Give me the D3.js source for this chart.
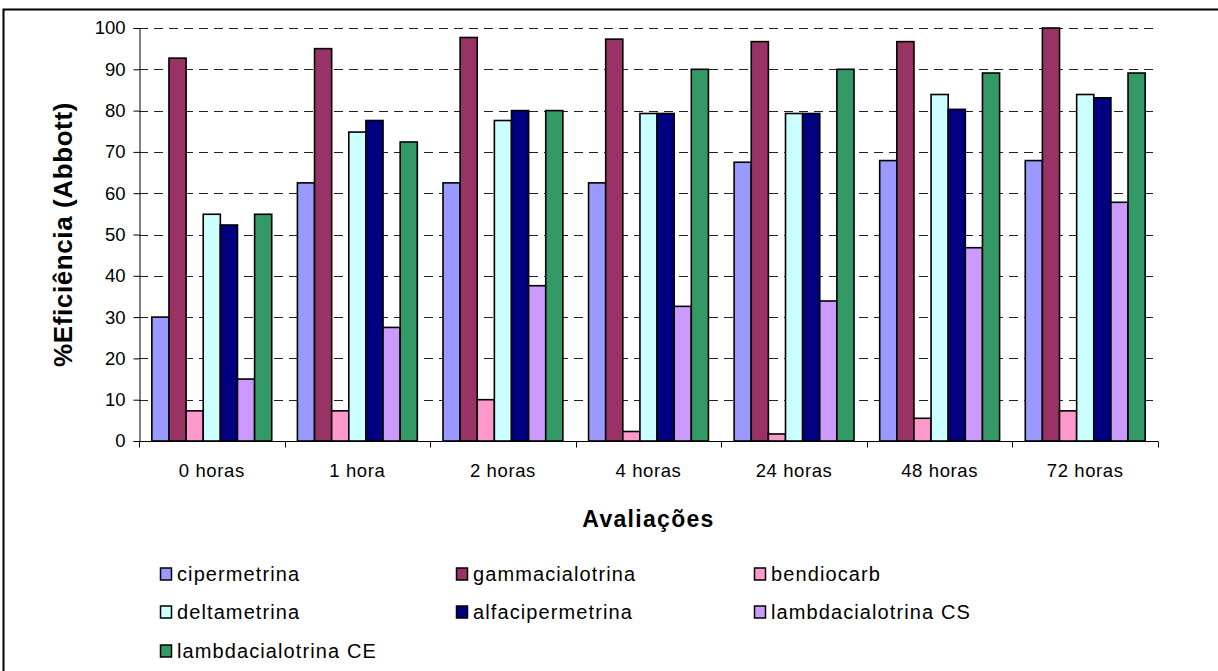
<!DOCTYPE html>
<html>
<head>
<meta charset="utf-8">
<script src="https://cdn.jsdelivr.net/npm/d3@7/dist/d3.min.js"></script>
<style>
  html, body { margin: 0; padding: 0; background: #fff; }
  svg { display: block; }
  text { font-family: "Liberation Sans", Arial, sans-serif; fill: #000; }
</style>
</head>
<body>
<svg id="chart" width="1218" height="671"></svg>
<script>
// Evaluation times (categories)
const categories = ["0 horas", "1 hora", "2 horas", "4 horas", "24 horas", "48 horas", "72 horas"];

// Insecticides (series) and their fill colours
const seriesNames = ["cipermetrina", "gammacialotrina", "bendiocarb", "deltametrina",
                     "alfacipermetrina", "lambdacialotrina CS", "lambdacialotrina CE"];
const seriesColors = ["#9999FF", "#993366", "#FF99CC", "#CCFFFF", "#000080", "#CC99FF", "#339966"];

// % efficiency (Abbott) per series, one value per evaluation time
const cipermetrina       = [30.0, 62.5, 62.5, 62.5, 67.5, 67.9, 67.9];
const gammacialotrina    = [92.7, 95.0, 97.7, 97.3, 96.7, 96.7, 100.0];
const bendiocarb         = [7.3, 7.3, 10.0, 2.3, 1.7, 5.5, 7.3];
const deltametrina       = [54.9, 74.8, 77.6, 79.3, 79.3, 83.9, 83.9];
const alfacipermetrina   = [52.3, 77.6, 80.0, 79.3, 79.3, 80.3, 83.1];
const lambdacialotrinaCS = [15.0, 27.5, 37.6, 32.6, 33.9, 46.8, 57.8];
const lambdacialotrinaCE = [54.9, 72.4, 80.0, 90.0, 90.0, 89.1, 89.1];

const yTicks = [0, 10, 20, 30, 40, 50, 60, 70, 80, 90, 100];

const seriesValues = [cipermetrina, gammacialotrina, bendiocarb, deltametrina,
                      alfacipermetrina, lambdacialotrinaCS, lambdacialotrinaCE];

const svg = d3.select("#chart");

// Outer chart frame
svg.append("rect")
  .attr("x", 3.5).attr("y", 9.5)
  .attr("width", 1240).attr("height", 700)
  .attr("fill", "none").attr("stroke", "#000").attr("stroke-width", 2);

const plot = { left: 139, right: 1158, top: 28, bottom: 441 };

const x0 = d3.scaleBand().domain(categories).range([plot.left, plot.right]).padding(0);
const x1 = d3.scaleBand().domain(seriesNames).range([0, x0.bandwidth()])
  .paddingInner(0).paddingOuter(0.75);
const y = d3.scaleLinear().domain([0, 100]).range([plot.bottom, plot.top]);
const color = d3.scaleOrdinal().domain(seriesNames).range(seriesColors);

// Dashed horizontal gridlines
svg.append("g")
  .selectAll("line")
  .data(yTicks.filter(d => d > 0))
  .join("line")
  .attr("x1", plot.left).attr("x2", plot.right)
  .attr("y1", d => Math.round(y(d)) + 0.5).attr("y2", d => Math.round(y(d)) + 0.5)
  .attr("stroke", "#222").attr("stroke-width", 1)
  .attr("stroke-dasharray", "9,6");

// Bars
const rows = categories.map((c, i) => ({
  cat: c,
  vals: seriesNames.map((s, j) => ({ series: s, value: seriesValues[j][i] }))
}));

svg.append("g")
  .selectAll("g")
  .data(rows)
  .join("g")
  .attr("transform", d => `translate(${x0(d.cat)},0)`)
  .selectAll("rect")
  .data(d => d.vals)
  .join("rect")
  .attr("x", d => x1(d.series))
  .attr("y", d => y(d.value))
  .attr("width", x1.bandwidth())
  .attr("height", d => y(0) - y(d.value))
  .attr("fill", d => color(d.series))
  .attr("stroke", "#000")
  .attr("stroke-width", 1.6);

// Y axis
const yAxis = svg.append("g")
  .attr("transform", `translate(${plot.left + 0.5},0)`)
  .call(d3.axisLeft(y).tickValues(yTicks).tickSize(6).tickPadding(8));
yAxis.select(".domain").attr("stroke", "#000");
yAxis.selectAll(".tick line").attr("stroke", "#000");
yAxis.selectAll(".tick text")
  .attr("font-size", "18.5px")
  .attr("font-family", "Liberation Sans, Arial, sans-serif")
  .attr("fill", "#000");

// X axis: ticks at category boundaries, labels centred in each category
const xAxis = svg.append("g")
  .attr("transform", `translate(0,${plot.bottom + 0.5})`);
xAxis.append("line")
  .attr("x1", plot.left).attr("x2", plot.right)
  .attr("stroke", "#000");
const boundaries = categories.map(c => x0(c)).concat([plot.right]);
xAxis.selectAll("line.tick")
  .data(boundaries)
  .join("line")
  .attr("class", "tick")
  .attr("x1", d => Math.round(d) + 0.5).attr("x2", d => Math.round(d) + 0.5)
  .attr("y1", 0).attr("y2", 6)
  .attr("stroke", "#000");
xAxis.selectAll("text")
  .data(categories)
  .join("text")
  .attr("x", d => x0(d) + x0.bandwidth() / 2)
  .attr("y", 35)
  .attr("text-anchor", "middle")
  .attr("font-size", "18.5px")
  .style("letter-spacing", "0.6px")
  .text(d => d);

// Axis titles
svg.append("text")
  .attr("x", (plot.left + plot.right) / 2)
  .attr("y", 527)
  .attr("text-anchor", "middle")
  .attr("font-size", "23px")
  .attr("font-weight", "bold")
  .style("letter-spacing", "1.3px")
  .text("Avaliações");

svg.append("text")
  .attr("transform", `translate(72,${(plot.top + plot.bottom) / 2}) rotate(-90)`)
  .attr("text-anchor", "middle")
  .attr("font-size", "26px")
  .attr("font-weight", "bold")
  .style("letter-spacing", "0.6px")
  .text("%Eficiência (Abbott)");

// Legend: three columns, filled row by row
const legendCols = [160, 456, 754];
const legendRows = [574, 612, 651];
const legend = svg.append("g")
  .selectAll("g")
  .data(seriesNames)
  .join("g")
  .attr("transform", (d, i) => `translate(${legendCols[i % 3]},${legendRows[Math.floor(i / 3)]})`);
legend.append("rect")
  .attr("x", 0.5).attr("y", -6)
  .attr("width", 11).attr("height", 12)
  .attr("fill", d => color(d))
  .attr("stroke", "#000").attr("stroke-width", 1.5);
legend.append("text")
  .attr("x", 17)
  .attr("y", 7)
  .attr("font-size", "20px")
  .style("letter-spacing", "1.1px")
  .text(d => d);
</script>
</body>
</html>
